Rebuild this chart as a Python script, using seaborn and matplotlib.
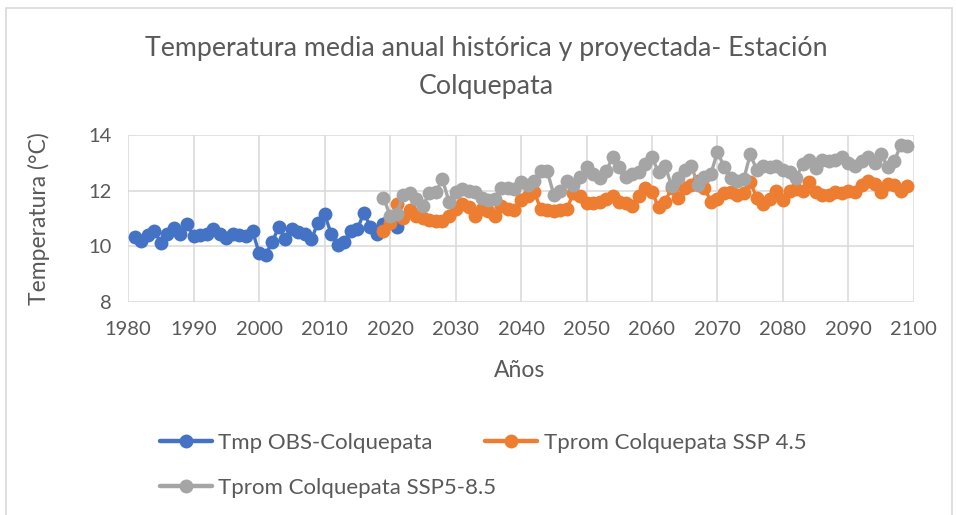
import numpy as np
import pandas as pd
import matplotlib
matplotlib.use("Agg")
import matplotlib.pyplot as plt
from matplotlib.patches import Rectangle
import seaborn as sns

# Observed annual mean temperature (°C), 1981-2021
obs_years = list(range(1981, 2022))
obs_temp = [10.33, 10.2, 10.4, 10.55, 10.12, 10.45, 10.65, 10.45, 10.78, 10.35,
            10.4, 10.45, 10.6, 10.45, 10.3, 10.45, 10.4, 10.35, 10.55, 9.75,
            9.68, 10.15, 10.68, 10.25, 10.6, 10.5, 10.45, 10.25, 10.85, 11.15,
            10.45, 10.05, 10.15, 10.55, 10.6, 11.2, 10.7, 10.45, 10.8, 11.0,
            10.7]

# Projected annual mean temperature (°C), 2019-2099
proj_years = list(range(2019, 2100))
ssp245 = [10.55, 10.85, 11.5, 11.0, 11.3, 11.1, 11.0, 10.95, 10.9, 10.9,
          11.1, 11.35, 11.5, 11.4, 11.1, 11.35, 11.25, 11.1, 11.45, 11.35,
          11.3, 11.65, 11.8, 11.95, 11.35, 11.3, 11.25, 11.3, 11.35, 11.9,
          11.8, 11.55, 11.55, 11.6, 11.7, 11.8, 11.6, 11.55, 11.45, 11.8,
          12.1, 11.95, 11.4, 11.6, 12.1, 11.75, 12.1, 12.2, 12.35, 12.1,
          11.6, 11.7, 11.9, 11.95, 11.85, 11.9, 12.3, 11.75, 11.5, 11.7,
          12.0, 11.65, 12.0, 12.05, 12.0, 12.3, 11.95, 11.85, 11.85, 11.95,
          11.9, 12.0, 11.95, 12.2, 12.35, 12.25, 11.95, 12.25, 12.2, 12.0,
          12.15]
ssp585 = [11.75, 11.1, 11.15, 11.85, 11.9, 11.7, 11.45, 11.9, 11.95, 12.4,
          11.6, 11.95, 12.05, 12.0, 11.95, 11.75, 11.65, 11.7, 12.1, 12.1,
          12.05, 12.3, 12.2, 12.35, 12.7, 12.7, 11.85, 12.0, 12.35, 12.2,
          12.5, 12.85, 12.6, 12.45, 12.7, 13.2, 12.85, 12.5, 12.6, 12.65,
          12.95, 13.2, 12.65, 12.9, 12.15, 12.45, 12.75, 12.9, 12.2, 12.5,
          12.6, 13.4, 12.85, 12.45, 12.35, 12.4, 13.3, 12.75, 12.9, 12.85,
          12.9, 12.75, 12.65, 12.45, 12.95, 13.1, 12.8, 13.1, 13.05, 13.1,
          13.2, 13.0, 12.9, 13.05, 13.2, 13.0, 13.3, 12.85, 13.05, 13.65,
          13.6]

series_names = ["Tmp OBS-Colquepata", "Tprom Colquepata SSP 4.5",
                "Tprom Colquepata SSP5-8.5"]
series_colors = ["#4472C4", "#ED7D31", "#A5A5A5"]

x_ticks = list(range(1980, 2101, 10))
y_ticks = [8, 10, 12, 14]

df = pd.concat([
    pd.DataFrame({"Año": obs_years, "Temp": obs_temp, "Serie": series_names[0]}),
    pd.DataFrame({"Año": proj_years, "Temp": ssp245, "Serie": series_names[1]}),
    pd.DataFrame({"Año": proj_years, "Temp": ssp585, "Serie": series_names[2]}),
], ignore_index=True)

sns.set_theme(style="white")
plt.rcParams["font.family"] = ["Lato", "DejaVu Sans"]
text_color = "#595959"

fig = plt.figure(figsize=(9.56, 5.15), dpi=100)
ax = fig.add_axes([0.134, 0.414, 0.822, 0.324])

sns.lineplot(data=df, x="Año", y="Temp", hue="Serie",
             hue_order=series_names, palette=series_colors,
             marker="o", markersize=10, markeredgewidth=0,
             linewidth=2.4, ax=ax, legend=True)

ax.set_xlim(1980, 2100)
ax.set_ylim(8, 14)
ax.set_xticks(x_ticks)
ax.set_yticks(y_ticks)
ax.grid(True, color="#D9D9D9", linewidth=1.1)
ax.set_axisbelow(True)
for s in ax.spines.values():
    s.set_visible(False)
ax.tick_params(axis="both", length=0, labelsize=14.5, colors=text_color, pad=12)
ax.tick_params(axis="x", pad=14)

ax.set_xlabel("Años", fontsize=16.5, color=text_color)
ax.set_ylabel("Temperatura (°C)", fontsize=16.5, color=text_color)
ax.xaxis.set_label_coords(0.498, -0.35)
ax.yaxis.set_label_coords(-0.10, 0.5)

fig.text(0.509, 0.905, "Temperatura media anual histórica y proyectada- Estación",
         ha="center", va="center", fontsize=19.3, color=text_color)
fig.text(0.509, 0.832, "Colquepata", ha="center", va="center",
         fontsize=19.3, color=text_color)

# Legend below the chart: two entries in the first row, one in the second
handles, labels = ax.get_legend_handles_labels()
ax.get_legend().remove()
legend_kw = dict(loc="center left", frameon=False, fontsize=16,
                 handlelength=2.35, handletextpad=0.28, borderpad=0,
                 borderaxespad=0, labelcolor=text_color)
leg1 = fig.legend(handles[:2], labels[:2], ncol=2, columnspacing=2.35,
                  bbox_to_anchor=(160 / 956, 1 - 443 / 515), **legend_kw)
leg2 = fig.legend(handles[2:], labels[2:], ncol=1,
                  bbox_to_anchor=(160 / 956, 1 - 488 / 515), **legend_kw)
for leg in (leg1, leg2):
    for h in leg.legend_handles:
        h.set_markersize(10)
        h.set_linewidth(3.2)

# Chart frame
fig.add_artist(Rectangle((0.006, -0.05), 0.99, 1.034, transform=fig.transFigure,
                         fill=False, edgecolor="#D9D9D9", linewidth=1.2))

fig.savefig("out.png", dpi=100)
